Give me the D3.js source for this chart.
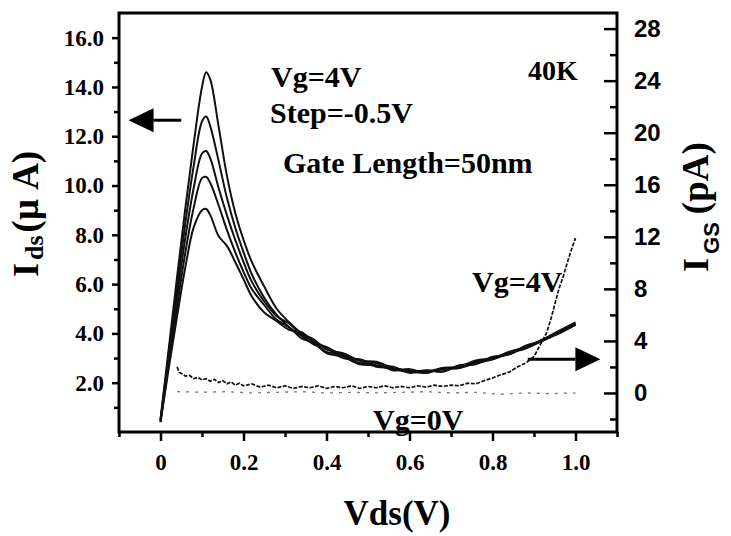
<!DOCTYPE html>
<html>
<head>
<meta charset="utf-8">
<script src="https://cdn.jsdelivr.net/npm/d3@7"></script>
<style>
  body { margin: 0; background: #fff; }
  svg { display: block; }
  .serif { font-family: "Liberation Serif", "Times New Roman", serif; font-weight: bold; }
  .sans { font-family: "Liberation Sans", Arial, sans-serif; font-weight: bold; }
</style>
</head>
<body>
<div id="chart"></div>
<script>
// Vds sweep (V) for the drain current curves
var vds = [0, 0.02, 0.04, 0.06, 0.08, 0.10, 0.11, 0.12, 0.14, 0.16, 0.18, 0.20, 0.22, 0.25, 0.28, 0.31,
  0.34, 0.37, 0.40, 0.44, 0.48, 0.52, 0.56, 0.60, 0.64, 0.68, 0.72, 0.76, 0.80, 0.84, 0.88, 0.92, 0.96, 1.00];

// Ids (uA), Vg = 4V down to 2V in -0.5V steps
var ids4 = [0.5, 3.4, 6.3, 9.1, 11.7, 14.0, 14.6, 14.3, 12.4, 10.4, 8.9, 7.8, 6.9, 5.9, 5.0, 4.45,
  4.0, 3.75, 3.35, 3.2, 2.9, 2.85, 2.6, 2.5, 2.45, 2.6, 2.65, 2.9, 3.0, 3.25, 3.45, 3.75, 4.1, 4.45];
var ids35 = [0.5, 3.2, 5.9, 8.5, 10.8, 12.6, 12.8, 12.4, 11.0, 9.5, 8.3, 7.3, 6.4, 5.45, 4.75, 4.25,
  3.9, 3.55, 3.4, 3.0, 2.95, 2.7, 2.65, 2.4, 2.5, 2.45, 2.7, 2.75, 3.05, 3.15, 3.5, 3.7, 4.05, 4.4];
var ids3 = [0.45, 3.0, 5.5, 7.9, 9.9, 11.3, 11.4, 11.1, 9.9, 8.8, 7.8, 6.9, 6.1, 5.3, 4.7, 4.4,
  3.95, 3.65, 3.25, 3.15, 2.8, 2.8, 2.5, 2.55, 2.4, 2.6, 2.6, 2.85, 2.95, 3.2, 3.4, 3.75, 4.0, 4.4];
var ids25 = [0.4, 2.8, 5.1, 7.3, 9.1, 10.3, 10.35, 10.1, 9.2, 8.2, 7.3, 6.5, 5.8, 5.15, 4.55, 4.25,
  3.8, 3.6, 3.2, 3.05, 2.75, 2.7, 2.55, 2.45, 2.5, 2.45, 2.7, 2.8, 2.95, 3.25, 3.4, 3.7, 4.05, 4.35];
var ids2 = [0.4, 2.6, 4.7, 6.7, 8.3, 9.0, 9.05, 8.8, 7.95, 7.55, 6.9, 6.2, 5.5, 4.85, 4.5, 4.15,
  4.05, 3.65, 3.45, 3.1, 2.9, 2.65, 2.6, 2.45, 2.4, 2.55, 2.6, 2.8, 3.0, 3.15, 3.45, 3.7, 4.0, 4.35];

// gate leakage IGS (pA)
var vdsG = [0.04, 0.045, 0.05, 0.06, 0.07, 0.08, 0.09, 0.10, 0.11, 0.12, 0.13, 0.14, 0.15, 0.16, 0.17,
  0.18, 0.19, 0.20, 0.22, 0.24, 0.26, 0.28, 0.30, 0.32, 0.34, 0.36, 0.38, 0.40, 0.42, 0.44, 0.46,
  0.48, 0.50, 0.52, 0.54, 0.56, 0.58, 0.60, 0.62, 0.64, 0.66, 0.68, 0.70, 0.72, 0.74, 0.76, 0.78,
  0.80, 0.82, 0.84, 0.86, 0.88, 0.90, 0.92, 0.93, 0.94, 0.95, 0.96, 0.97, 0.98, 0.99, 1.00];
var igs4 = [2.0, 1.6, 1.5, 1.3, 1.35, 1.1, 1.2, 1.0, 1.1, 0.9, 1.05, 0.8, 0.95, 0.7, 0.85,
  0.6, 0.75, 0.55, 0.7, 0.45, 0.6, 0.4, 0.55, 0.35, 0.5, 0.4, 0.55, 0.35, 0.5, 0.4, 0.55,
  0.35, 0.5, 0.4, 0.55, 0.4, 0.5, 0.4, 0.55, 0.45, 0.6, 0.5, 0.6, 0.55, 0.75, 0.7, 0.95,
  1.15, 1.4, 1.6, 2.0, 2.3, 2.8, 4.0, 4.6, 5.6, 6.8, 8.0, 8.9, 10.0, 11.0, 11.9];
var vdsG0 = [0.04, 0.10, 0.16, 0.22, 0.28, 0.34, 0.40, 0.46, 0.52, 0.58, 0.64, 0.70, 0.76, 0.82, 0.88, 0.94, 1.00];
var igs0 = [0.1, 0.05, 0.1, 0.0, 0.05, 0.1, 0.0, 0.05, 0.0, 0.05, 0.1, 0.0, 0.05, -0.1, 0.0, -0.05, 0.0];

var xTicks = [0, 0.2, 0.4, 0.6, 0.8, 1.0];
var xMinor = [-0.1, 0.1, 0.3, 0.5, 0.7, 0.9, 1.1];
var yLTicks = [2, 4, 6, 8, 10, 12, 14, 16];
var yLMinor = [1, 3, 5, 7, 9, 11, 13, 15];
var yRTicks = [0, 4, 8, 12, 16, 20, 24, 28];
var yRMinor = [-2, 2, 6, 10, 14, 18, 22, 26];

var W = 731, H = 536;
var box = { left: 119, right: 617, top: 13, bottom: 432 };

var svg = d3.select("#chart").append("svg")
  .attr("width", W)
  .attr("height", H);

var x = d3.scaleLinear().domain([-0.1, 1.1]).range([box.left, box.right]);
var yL = d3.scaleLinear().domain([0, 17]).range([box.bottom, box.top]);
var yR = d3.scaleLinear().domain([-3, 29.2]).range([box.bottom, box.top]);

function styleAxis(g, cls, size) {
  g.select(".domain").remove();
  g.selectAll("line").attr("stroke", "#000").attr("stroke-width", 2.5);
  g.selectAll("text").attr("class", cls).attr("fill", "#000").style("font-size", size + "px");
}

// left axis (Ids)
svg.append("g").attr("transform", `translate(${box.left},0)`)
  .call(d3.axisLeft(yL).tickValues(yLTicks).tickSize(7).tickPadding(8).tickFormat(d3.format(".1f")))
  .call(g => styleAxis(g, "serif", 23));
svg.append("g").attr("transform", `translate(${box.left},0)`)
  .call(d3.axisLeft(yL).tickValues(yLMinor).tickSize(5).tickFormat(""))
  .call(g => styleAxis(g, "serif", 23));

// bottom axis (Vds)
svg.append("g").attr("transform", `translate(0,${box.bottom})`)
  .call(d3.axisBottom(x).tickValues(xTicks).tickSize(9).tickPadding(13)
    .tickFormat(d => d === 0 ? "0" : d3.format(".1f")(d)))
  .call(g => styleAxis(g, "serif", 23));
svg.append("g").attr("transform", `translate(0,${box.bottom})`)
  .call(d3.axisBottom(x).tickValues(xMinor).tickSize(5).tickFormat(""))
  .call(g => styleAxis(g, "serif", 23));

// right axis (IGS), ticks point inward
svg.append("g").attr("transform", `translate(${box.right},0)`)
  .call(d3.axisRight(yR).tickValues(yRTicks).tickSize(-13).tickPadding(17).tickFormat(d3.format("d")))
  .call(g => styleAxis(g, "sans", 24));
svg.append("g").attr("transform", `translate(${box.right},0)`)
  .call(d3.axisRight(yR).tickValues(yRMinor).tickSize(-7).tickFormat(""))
  .call(g => styleAxis(g, "sans", 24));

// frame
svg.append("rect")
  .attr("x", box.left).attr("y", box.top)
  .attr("width", box.right - box.left).attr("height", box.bottom - box.top)
  .attr("fill", "none").attr("stroke", "#000").attr("stroke-width", 3);

// Ids curves
var idsLine = d3.line().x(d => x(d[0])).y(d => yL(d[1])).curve(d3.curveCatmullRom.alpha(0.5));
[ids4, ids35, ids3, ids25, ids2].forEach(function(s) {
  svg.append("path")
    .datum(vds.map((v, i) => [v, s[i]]))
    .attr("d", idsLine)
    .attr("fill", "none")
    .attr("stroke", "#111")
    .attr("stroke-width", 2);
});

// IGS curves
var igsLine = d3.line().x(d => x(d[0])).y(d => yR(d[1]));
svg.append("path")
  .datum(vdsG0.map((v, i) => [v, igs0[i]]))
  .attr("d", igsLine)
  .attr("fill", "none")
  .attr("stroke", "#777")
  .attr("stroke-width", 1.3)
  .attr("stroke-dasharray", "3,6");
svg.append("path")
  .datum(vdsG.map((v, i) => [v, igs4[i]]))
  .attr("d", igsLine)
  .attr("fill", "none")
  .attr("stroke", "#111")
  .attr("stroke-width", 1.7)
  .attr("stroke-dasharray", "4,1.5");

// arrows pointing to the axis each family belongs to
function arrow(x0, x1, y, dir) {
  var head = 25;
  var xb = x1 - dir * head;
  svg.append("line")
    .attr("x1", x0).attr("x2", xb).attr("y1", y).attr("y2", y)
    .attr("stroke", "#000").attr("stroke-width", 3);
  svg.append("path")
    .attr("d", `M${x1},${y} L${xb},${y - 12} L${xb},${y + 12} Z`)
    .attr("fill", "#000");
}
arrow(x(0.05), x(-0.077), yL(12.65), -1);
arrow(x(0.885), x(1.06), yR(2.6), 1);

// text annotations
function label(txt, xx, yy, size) {
  svg.append("text").attr("class", "serif")
    .attr("x", xx).attr("y", yy)
    .style("font-size", size + "px")
    .text(txt);
}
label("Vg=4V", 271, 87, 30);
label("Step=-0.5V", 270, 123, 30);
label("Gate Length=50nm", 283, 173, 30);
label("40K", 528, 80, 28);
label("Vg=4V", 472, 292, 30);
label("Vg=0V", 373, 430, 30);

// x title
svg.append("text").attr("class", "serif")
  .attr("x", 397).attr("y", 525)
  .attr("text-anchor", "middle")
  .style("font-size", "35px")
  .text("Vds(V)");

// left title
var lt = svg.append("text").attr("class", "serif")
  .attr("transform", "translate(38,277) rotate(-90)");
lt.append("tspan").style("font-size", "36px").text("I");
lt.append("tspan").attr("dx", 3).attr("dy", 5).style("font-size", "26px").text("ds");
lt.append("tspan").attr("dx", 3).attr("dy", -5).style("font-size", "37px").text("(\u03bc A)");

// right title
var rt = svg.append("text").attr("class", "serif")
  .attr("transform", "translate(708,272) rotate(-90)");
rt.append("tspan").style("font-size", "36px").text("I");
rt.append("tspan").attr("class", "sans").attr("dx", 4).attr("dy", 11).style("font-size", "22px").text("GS");
rt.append("tspan").attr("dx", 8).attr("dy", -11).style("font-size", "37px").text("(pA)");
</script>
</body>
</html>
